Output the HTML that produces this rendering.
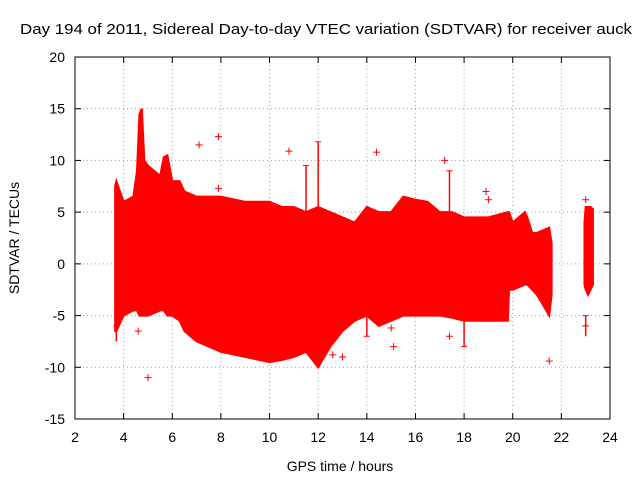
<!DOCTYPE html>
<html><head><meta charset="utf-8"><style>
body{margin:0;background:#fff;}
svg{display:block;font-family:"Liberation Sans",sans-serif;}
</style></head><body>
<svg id="chart" width="640" height="480" viewBox="0 0 640 480" xmlns="http://www.w3.org/2000/svg">
<text x="20" y="34" font-size="15" textLength="612" lengthAdjust="spacingAndGlyphs" fill="#000">Day 194 of 2011, Sidereal Day-to-day VTEC variation (SDTVAR) for receiver auck</text>
<text x="340" y="471" font-size="14" text-anchor="middle">GPS time / hours</text>
<text transform="translate(19,238) rotate(-90)" font-size="14" text-anchor="middle">SDTVAR / TECUs</text>
<g id="grid"></g><g id="data"></g><g id="axes"></g>
</svg>
<script>
const xTicks=[2,4,6,8,10,12,14,16,18,20,22,24];
const yTicks=[-15,-10,-5,0,5,10,15,20];
const seg1Hours=[3.65,3.7,4.0,4.4,4.55,4.65,4.75,4.85,5.0,5.5,5.65,5.8,6.0,6.3,6.5,7,8,9,10,10.5,11,11.5,12,12.5,13,13.5,14,14.5,15,15.5,16,16.5,17,17.5,18,19,19.8,19.85,20,20.5,20.6,20.8,21,21.5,21.6];
const seg1Tops=[7.5,8,6,6.5,9,14.5,15,10,9.5,8.5,10.3,10.5,8,8,7,6.5,6.5,6,6,5.5,5.5,5,5.5,5,4.5,4,5.5,5,5,6.5,6.2,6,5,5,4.5,4.5,5,5,4,5,4.5,3,3,3.5,2];
const seg1Bottoms=[-6.5,-6.5,-5,-4.5,-4.5,-5,-5,-5,-5,-4.5,-4.5,-5,-5,-5.5,-6.5,-7.5,-8.5,-9,-9.5,-9.3,-9,-8.5,-10,-8,-6.5,-5.5,-5,-6,-5.5,-5,-5,-5,-5,-5.2,-5.5,-5.5,-5.5,-2.5,-2.5,-2,-2,-2.5,-3,-5,-3];
const seg2Hours=[22.95,23.0,23.1,23.2,23.3];
const seg2Tops=[4,5.5,5.5,5.5,5.3];
const seg2Bottoms=[-2,-2.5,-3,-2.5,-2];
const outlierX=[5.0,7.1,7.9,7.9,10.8,14.4,17.2,18.9,19.0,21.5,13.0,15.1,17.4,12.6,15.0,23.0,23.0,4.6];
const outlierY=[-11,11.5,12.3,7.3,10.9,10.8,10,7,6.2,-9.4,-9,-8,-7,-8.8,-6.2,-6,6.2,-6.5];
const spikeX=[11.5,12.0,17.4,18.0,3.7,14.0,23.0];
const spikeLo=[5,5,5,-5,-7.5,-5,-7];
const spikeHi=[9.5,11.8,9,-8,-6,-7,-5];

const L=75,R=610,T=57,B=419;
const xs=v=>L+(v-2)*(R-L)/22;
const ys=v=>T+(20-v)*(B-T)/35;
const NS="http://www.w3.org/2000/svg";
function mk(tag,parent,attrs){const e=document.createElementNS(NS,tag);for(const k in attrs)e.setAttribute(k,attrs[k]);parent.appendChild(e);return e;}
const grid=document.getElementById('grid'),data=document.getElementById('data'),axes=document.getElementById('axes');
xTicks.forEach(t=>{
 if(t>2&&t<24){const g=mk('line',grid,{x1:xs(t),x2:xs(t),y1:T,y2:B,stroke:'#a0a0a0','stroke-dasharray':'1,3'});
 
 }
 const tx=mk('text',axes,{x:xs(t),y:B+23,'font-size':'14','text-anchor':'middle'});tx.textContent=t;
 
 
 mk('line',axes,{x1:xs(t),x2:xs(t),y1:B,y2:B-6,stroke:'#000'});
 mk('line',axes,{x1:xs(t),x2:xs(t),y1:T,y2:T+6,stroke:'#000'});
});
yTicks.forEach(t=>{
 if(t>-15&&t<20){const g=mk('line',grid,{x1:L,x2:R,y1:ys(t),y2:ys(t),stroke:'#a0a0a0','stroke-dasharray':'1,3'});
 
 }
 const tx=mk('text',axes,{x:L-10,y:ys(t)+5,'font-size':'14','text-anchor':'end'});tx.textContent=t;
 
 
 mk('line',axes,{x1:L,x2:L+6,y1:ys(t),y2:ys(t),stroke:'#000'});
 mk('line',axes,{x1:R,x2:R-6,y1:ys(t),y2:ys(t),stroke:'#000'});
});
const fr=mk('rect',axes,{x:L,y:T,width:R-L,height:B-T,fill:'none',stroke:'#000'});


function band(hours,tops,bots,name){
 let pts=hours.map((h,i)=>xs(h)+','+ys(tops[i]));
 for(let i=hours.length-1;i>=0;i--)pts.push(xs(hours[i])+','+ys(bots[i]));
 const p=mk('polygon',data,{points:pts.join(' '),fill:'#ff0000',stroke:'#ff0000','stroke-width':'2'});
 
 
}
band(seg1Hours,seg1Tops,seg1Bottoms,'sdtvar-band-main');
band(seg2Hours,seg2Tops,seg2Bottoms,'sdtvar-band-late');
spikeX.forEach((x,i)=>{
 const s=mk('line',data,{x1:xs(x),x2:xs(x),y1:ys(spikeLo[i]),y2:ys(spikeHi[i]),stroke:'#ff0000','stroke-width':'1.5'});
 
 
 mk('line',data,{x1:xs(x)-3,x2:xs(x)+3,y1:ys(spikeHi[i]),y2:ys(spikeHi[i]),stroke:'#ff0000'});
});
outlierX.forEach((x,i)=>{
 const g=mk('g',data,{stroke:'#ff0000','stroke-width':'1'});
 
 
 const cx=xs(x),cy=ys(outlierY[i]);
 mk('line',g,{x1:cx-3.5,x2:cx+3.5,y1:cy,y2:cy});
 mk('line',g,{x1:cx,x2:cx,y1:cy-3.5,y2:cy+3.5});
});
</script>
</body></html>
